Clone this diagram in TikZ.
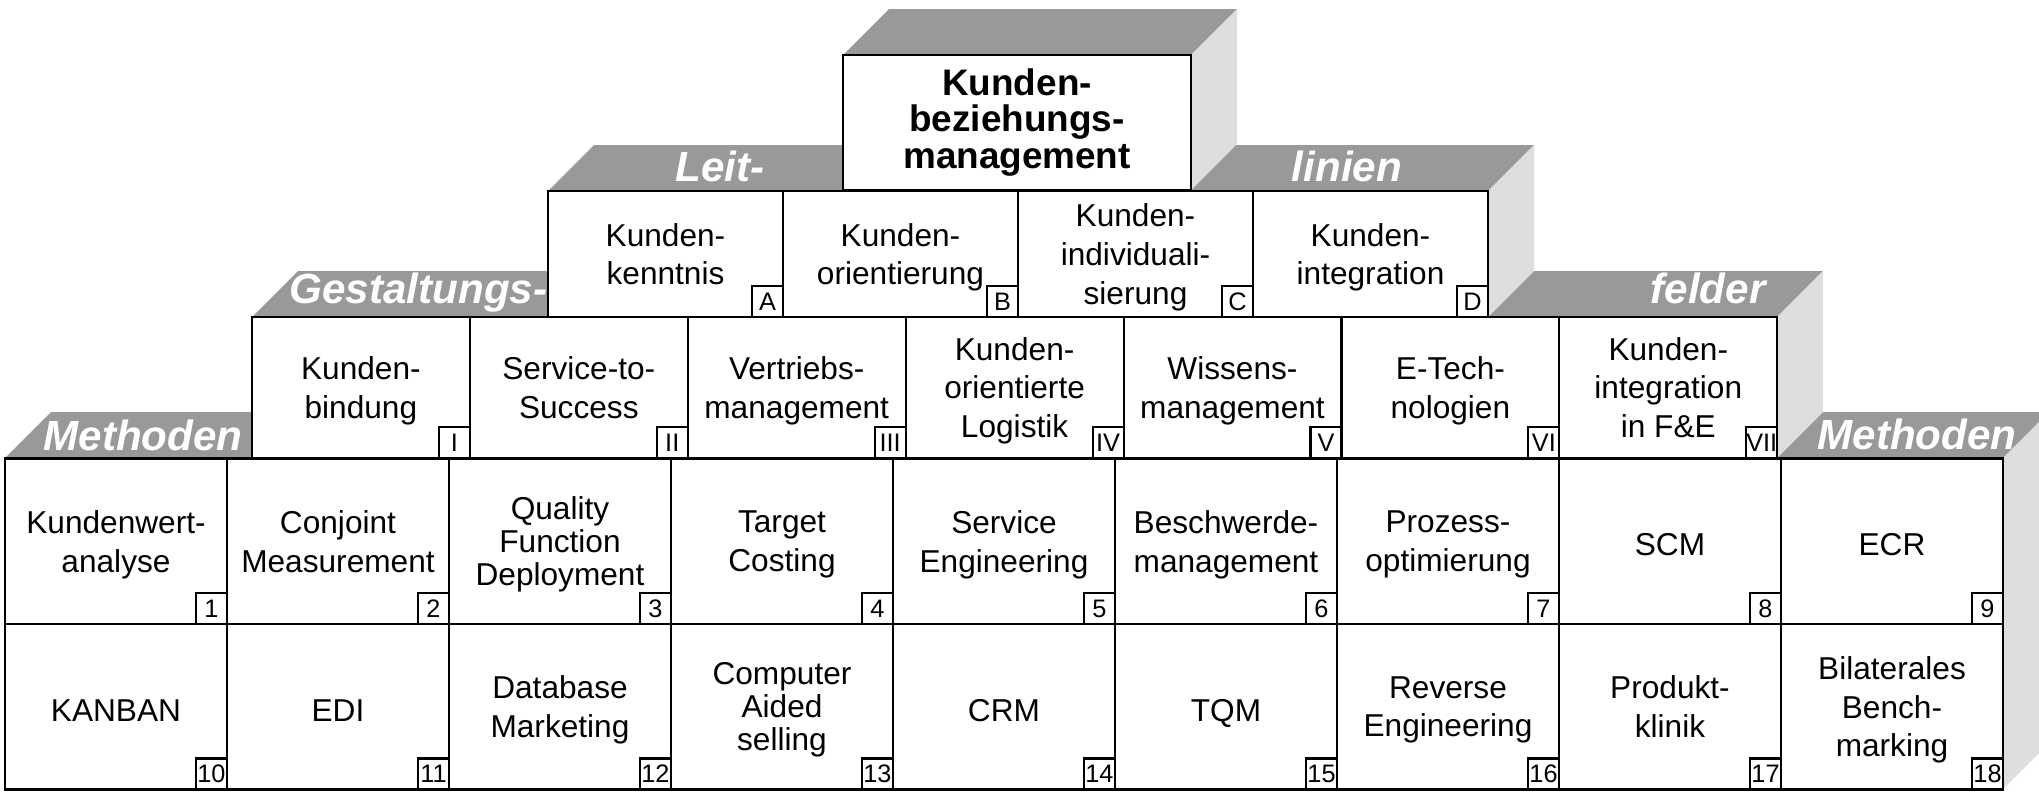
\documentclass[tikz,border=0pt]{standalone}
\usepackage{fontspec}
\setmainfont{Liberation Sans}
\usepackage{tikz}
\usetikzlibrary{positioning}
\definecolor{topgray}{RGB}{153,153,153}
\definecolor{sidegray}{RGB}{222,222,222}

\begin{document}
\begin{tikzpicture}[x=0.1mm,y=-0.1mm,
  field/.style={draw, line width=0.6pt, fill=white, inner sep=0pt, outer sep=0pt, align=center, font=\fontsize{9}{11}\selectfont, text depth=0pt, execute at begin node={\rule{0pt}{2.9mm}}},
  method/.style={field, minimum width=22.2mm, minimum height=16.55mm},
  design/.style={field, minimum width=21.79mm, minimum height=14.1mm},
  guide/.style={field, minimum width=23.5mm, minimum height=12.6mm},
  tight/.style={font=\fontsize{9}{9.4}\selectfont},
  tag/.style={draw, line width=0.6pt, fill=white, inner sep=0pt, outer sep=0pt, minimum size=3.1mm, font=\fontsize{7.2}{7.2}\selectfont},
  banner/.style={text=white, inner sep=0pt, font=\fontsize{12}{12}\selectfont\bfseries\itshape},
  topface/.style={fill=topgray},
  sideface/.style={fill=sidegray}]
\useasboundingbox (0,0) rectangle (2039,793);

%Methoden
\begin{scope}
\fill[topface] (5,458)--(2003,458)--(2049,412)--(51,412)--cycle;
\fill[sideface] (2003,458)--(2049,412)--(2049,743)--(2003,789)--cycle;

\node[method] (m1) at (116,541.25) {Kundenwert-\\analyse};
\node[method, right=0pt of m1] (m2) {Conjoint\\Measurement};
\node[method, tight, right=0pt of m2] (m3) {Quality\\Function\\Deployment};
\node[method, right=0pt of m3] (m4) {Target\\Costing};
\node[method, right=0pt of m4] (m5) {Service\\Engineering};
\node[method, right=0pt of m5] (m6) {Beschwerde-\\management};
\node[method, right=0pt of m6] (m7) {Prozess-\\optimierung};
\node[method, right=0pt of m7] (m8) {SCM};
\node[method, right=0pt of m8] (m9) {ECR};

\node[method, below=0pt of m1] (m10) {KANBAN};
\node[method, right=0pt of m10] (m11) {EDI};
\node[method, right=0pt of m11] (m12) {Database\\Marketing};
\node[method, tight, right=0pt of m12] (m13) {Computer\\Aided\\selling};
\node[method, right=0pt of m13] (m14) {CRM};
\node[method, right=0pt of m14] (m15) {TQM};
\node[method, right=0pt of m15] (m16) {Reverse\\Engineering};
\node[method, right=0pt of m16] (m17) {Produkt-\\klinik};
\node[method, right=0pt of m17] (m18) {Bilaterales\\Bench-\\marking};

\node[tag, anchor=south east] (t1) at (m1.south east) {1};
\node[tag, anchor=south east] (t2) at (m2.south east) {2};
\node[tag, anchor=south east] (t3) at (m3.south east) {3};
\node[tag, anchor=south east] (t4) at (m4.south east) {4};
\node[tag, anchor=south east] (t5) at (m5.south east) {5};
\node[tag, anchor=south east] (t6) at (m6.south east) {6};
\node[tag, anchor=south east] (t7) at (m7.south east) {7};
\node[tag, anchor=south east] (t8) at (m8.south east) {8};
\node[tag, anchor=south east] (t9) at (m9.south east) {9};
\node[tag, anchor=south east] (t10) at (m10.south east) {10};
\node[tag, anchor=south east] (t11) at (m11.south east) {11};
\node[tag, anchor=south east] (t12) at (m12.south east) {12};
\node[tag, anchor=south east] (t13) at (m13.south east) {13};
\node[tag, anchor=south east] (t14) at (m14.south east) {14};
\node[tag, anchor=south east] (t15) at (m15.south east) {15};
\node[tag, anchor=south east] (t16) at (m16.south east) {16};
\node[tag, anchor=south east] (t17) at (m17.south east) {17};
\node[tag, anchor=south east] (t18) at (m18.south east) {18};

\node[banner, anchor=base] (methl) at (143,450) {Methoden};
\node[banner, anchor=base] (methr) at (1917,449) {Methoden};
\end{scope}

%Gestaltungsfelder
\begin{scope}
\fill[topface] (252,317)--(1777,317)--(1823,271)--(298,271)--cycle;
\fill[sideface] (1777,317)--(1823,271)--(1823,412)--(1777,458)--cycle;

\node[design] (g1) at (360.9,387.5) {Kunden-\\bindung};
\node[design, right=0pt of g1] (g2) {Service-to-\\Success};
\node[design, right=0pt of g2] (g3) {Vertriebs-\\management};
\node[design, right=0pt of g3] (g4) {Kunden-\\orientierte\\Logistik};
\node[design, right=0pt of g4] (g5) {Wissens-\\management};
\node[design, right=0pt of g5] (g6) {E-Tech-\\nologien};
\node[design, right=0pt of g6] (g7) {Kunden-\\integration\\in F\&E};

\node[tag, anchor=south east] (tI) at (g1.south east) {I};
\node[tag, anchor=south east] (tII) at (g2.south east) {II};
\node[tag, anchor=south east] (tIII) at (g3.south east) {III};
\node[tag, anchor=south east] (tIV) at (g4.south east) {IV};
\node[tag, anchor=south east] (tV) at (g5.south east) {V};
\node[tag, anchor=south east] (tVI) at (g6.south east) {VI};
\node[tag, anchor=south east] (tVII) at (g7.south east) {VII};

\node[banner, anchor=base east] (gest) at (548,303) {Gestaltungs-};
\node[banner, anchor=base] (feld) at (1708,303) {felder};
\end{scope}

%Leitlinien
\begin{scope}
\fill[topface] (548,191)--(1488,191)--(1534,145)--(594,145)--cycle;
\fill[sideface] (1488,191)--(1534,145)--(1534,271)--(1488,317)--cycle;

\node[guide] (l1) at (665.5,254) {Kunden-\\kenntnis};
\node[guide, right=0pt of l1] (l2) {Kunden-\\orientierung};
\node[guide, right=0pt of l2] (l3) {Kunden-\\individuali-\\sierung};
\node[guide, right=0pt of l3] (l4) {Kunden-\\integration};

\node[tag, anchor=south east] (tA) at (l1.south east) {A};
\node[tag, anchor=south east] (tB) at (l2.south east) {B};
\node[tag, anchor=south east] (tC) at (l3.south east) {C};
\node[tag, anchor=south east] (tD) at (l4.south east) {D};

\node[banner, anchor=base east] (leit) at (765,181) {Leit-};
\node[banner, anchor=base] (lin) at (1347,181) {linien};
\end{scope}

%Kundenbeziehungsmanagement
\fill[topface] (843,55)--(1191,55)--(1237,9)--(889,9)--cycle;
\fill[sideface] (1191,55)--(1237,9)--(1237,144)--(1191,190)--cycle;
\node[field, text depth=, minimum width=34.8mm, minimum height=13.5mm, font=\fontsize{10.5}{10.4}\selectfont\bfseries] (kbm) at (1017,122.5) {Kunden-\\beziehungs-\\management};

\end{tikzpicture}
\end{document}
